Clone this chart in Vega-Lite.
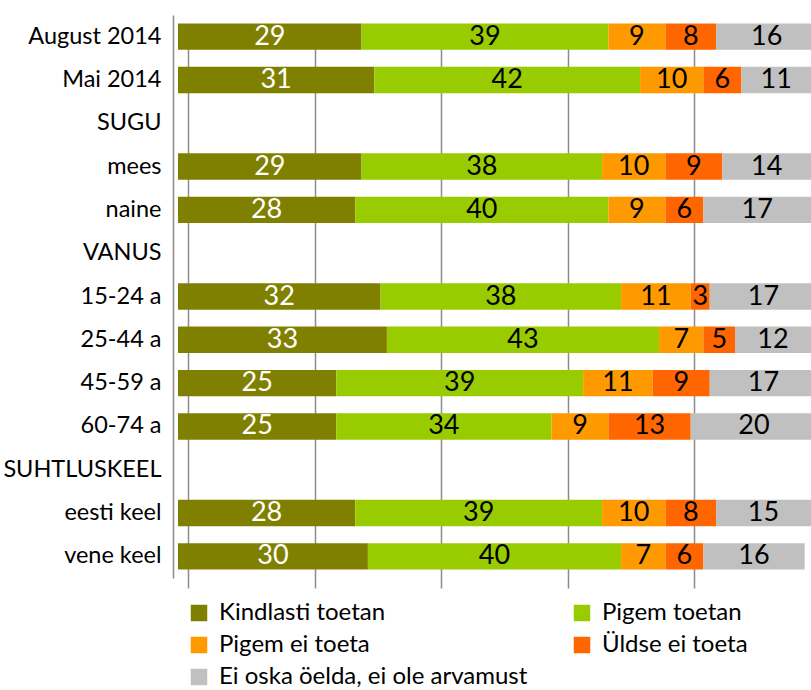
{
  "$schema": "https://vega.github.io/schema/vega-lite/v6.json",
  "width": 633,
  "height": 563,
  "autosize": {"type": "none"},
  "padding": {"left": 178, "top": 15, "right": 0, "bottom": 112},
  "background": "white",
  "config": {
    "view": {"stroke": null},
    "font": "Lato",
    "text": {"font": "Lato"}
  },
  "data": {
    "values": [
      {"g": "August 2014", "r": "Kindlasti toetan", "v": 29},
      {"g": "August 2014", "r": "Pigem toetan", "v": 39},
      {"g": "August 2014", "r": "Pigem ei toeta", "v": 9},
      {"g": "August 2014", "r": "Üldse ei toeta", "v": 8},
      {"g": "August 2014", "r": "Ei oska öelda, ei ole arvamust", "v": 16},
      {"g": "Mai 2014", "r": "Kindlasti toetan", "v": 31},
      {"g": "Mai 2014", "r": "Pigem toetan", "v": 42},
      {"g": "Mai 2014", "r": "Pigem ei toeta", "v": 10},
      {"g": "Mai 2014", "r": "Üldse ei toeta", "v": 6},
      {"g": "Mai 2014", "r": "Ei oska öelda, ei ole arvamust", "v": 11},
      {"g": "mees", "r": "Kindlasti toetan", "v": 29},
      {"g": "mees", "r": "Pigem toetan", "v": 38},
      {"g": "mees", "r": "Pigem ei toeta", "v": 10},
      {"g": "mees", "r": "Üldse ei toeta", "v": 9},
      {"g": "mees", "r": "Ei oska öelda, ei ole arvamust", "v": 14},
      {"g": "naine", "r": "Kindlasti toetan", "v": 28},
      {"g": "naine", "r": "Pigem toetan", "v": 40},
      {"g": "naine", "r": "Pigem ei toeta", "v": 9},
      {"g": "naine", "r": "Üldse ei toeta", "v": 6},
      {"g": "naine", "r": "Ei oska öelda, ei ole arvamust", "v": 17},
      {"g": "15-24 a", "r": "Kindlasti toetan", "v": 32},
      {"g": "15-24 a", "r": "Pigem toetan", "v": 38},
      {"g": "15-24 a", "r": "Pigem ei toeta", "v": 11},
      {"g": "15-24 a", "r": "Üldse ei toeta", "v": 3},
      {"g": "15-24 a", "r": "Ei oska öelda, ei ole arvamust", "v": 17},
      {"g": "25-44 a", "r": "Kindlasti toetan", "v": 33},
      {"g": "25-44 a", "r": "Pigem toetan", "v": 43},
      {"g": "25-44 a", "r": "Pigem ei toeta", "v": 7},
      {"g": "25-44 a", "r": "Üldse ei toeta", "v": 5},
      {"g": "25-44 a", "r": "Ei oska öelda, ei ole arvamust", "v": 12},
      {"g": "45-59 a", "r": "Kindlasti toetan", "v": 25},
      {"g": "45-59 a", "r": "Pigem toetan", "v": 39},
      {"g": "45-59 a", "r": "Pigem ei toeta", "v": 11},
      {"g": "45-59 a", "r": "Üldse ei toeta", "v": 9},
      {"g": "45-59 a", "r": "Ei oska öelda, ei ole arvamust", "v": 17},
      {"g": "60-74 a", "r": "Kindlasti toetan", "v": 25},
      {"g": "60-74 a", "r": "Pigem toetan", "v": 34},
      {"g": "60-74 a", "r": "Pigem ei toeta", "v": 9},
      {"g": "60-74 a", "r": "Üldse ei toeta", "v": 13},
      {"g": "60-74 a", "r": "Ei oska öelda, ei ole arvamust", "v": 20},
      {"g": "eesti keel", "r": "Kindlasti toetan", "v": 28},
      {"g": "eesti keel", "r": "Pigem toetan", "v": 39},
      {"g": "eesti keel", "r": "Pigem ei toeta", "v": 10},
      {"g": "eesti keel", "r": "Üldse ei toeta", "v": 8},
      {"g": "eesti keel", "r": "Ei oska öelda, ei ole arvamust", "v": 15},
      {"g": "vene keel", "r": "Kindlasti toetan", "v": 30},
      {"g": "vene keel", "r": "Pigem toetan", "v": 40},
      {"g": "vene keel", "r": "Pigem ei toeta", "v": 7},
      {"g": "vene keel", "r": "Üldse ei toeta", "v": 6},
      {"g": "vene keel", "r": "Ei oska öelda, ei ole arvamust", "v": 16}
    ]
  },
  "transform": [
    {"calculate": "indexof(['Kindlasti toetan','Pigem toetan','Pigem ei toeta','Üldse ei toeta','Ei oska öelda, ei ole arvamust'], datum.r)", "as": "ord"},
    {"stack": "v", "groupby": ["g"], "sort": [{"field": "ord", "order": "ascending"}], "as": ["x0", "x1"]},
    {"calculate": "(datum.x0 + datum.x1) / 2", "as": "xm"}
  ],
  "encoding": {
    "y": {
      "field": "g",
      "type": "nominal",
      "scale": {
        "domain": ["August 2014", "Mai 2014", "SUGU", "mees", "naine", "VANUS", "15-24 a", "25-44 a", "45-59 a", "60-74 a", "SUHTLUSKEEL", "eesti keel", "vene keel"],
        "paddingInner": 0.39,
        "paddingOuter": 0.195
      },
      "axis": {
        "title": null,
        "ticks": false,
        "offset": 5,
        "domainColor": "#8c8c8c",
        "domainWidth": 1.5,
        "labelFont": "Lato",
        "labelFontSize": 23.5,
        "labelColor": "#000000",
        "labelPadding": 12,
        "labelLimit": 200
      }
    }
  },
  "layer": [
    {
      "mark": {"type": "bar", "clip": true},
      "encoding": {
        "x": {
          "field": "x0",
          "type": "quantitative",
          "scale": {"domain": [0, 100], "nice": false, "zero": true},
          "axis": {
            "title": null,
            "labels": false,
            "ticks": false,
            "domain": false,
            "grid": true,
            "values": [0, 20, 40, 60, 80],
            "gridColor": "#8c8c8c",
            "gridWidth": 1.5,
            "translate": 10.5
          }
        },
        "x2": {"field": "x1"},
        "color": {
          "field": "r",
          "type": "nominal",
          "scale": {
            "domain": ["Kindlasti toetan", "Pigem toetan", "Pigem ei toeta", "Üldse ei toeta", "Ei oska öelda, ei ole arvamust"],
            "range": ["#808000", "#99CC00", "#FF9900", "#FF6600", "#C0C0C0"]
          },
          "legend": {
            "title": null,
            "orient": "none",
            "direction": "horizontal",
            "legendX": 9,
            "legendY": 586,
            "columns": 2,
            "columnPadding": 42,
            "rowPadding": 8,
            "symbolType": "square",
            "symbolSize": 272,
            "symbolStrokeWidth": 0,
            "symbolOpacity": 1,
            "labelFont": "Lato",
            "labelFontSize": 24,
            "labelColor": "#000000",
            "labelOffset": 8,
            "labelLimit": 400
          }
        }
      }
    },
    {
      "mark": {"type": "text", "font": "Lato", "fontSize": 27, "baseline": "middle", "align": "center", "clip": true},
      "encoding": {
        "x": {"field": "xm", "type": "quantitative"},
        "text": {"field": "v", "type": "quantitative"},
        "color": {
          "condition": {"test": "datum.r === 'Kindlasti toetan'", "value": "#ffffff"},
          "value": "#000000"
        }
      }
    }
  ]
}
